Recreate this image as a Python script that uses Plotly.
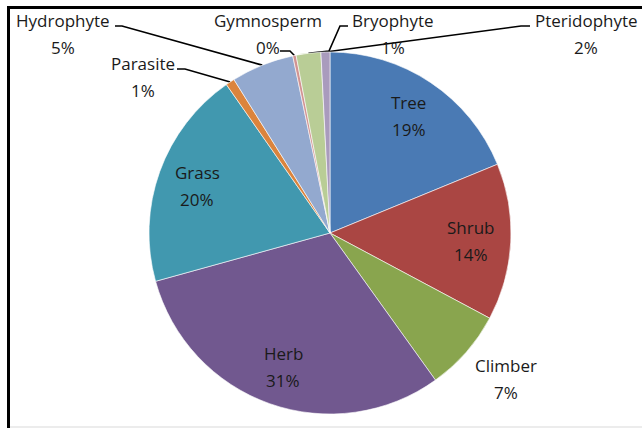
import numpy as np
import plotly.graph_objects as go

# data
categories = ["Tree", "Shrub", "Climber", "Herb", "Grass", "Parasite",
              "Hydrophyte", "Gymnosperm", "Bryophyte", "Pteridophyte"]
shares = [18.8, 14.0, 7.3, 30.6, 19.6, 0.8, 5.6, 0.3, 2.2, 0.8]
pct_labels = ["19%", "14%", "7%", "31%", "20%", "1%", "5%", "0%", "1%", "2%"]

colors = ["#4A7AB4", "#AA4643", "#89A54E", "#71588F", "#4198AF", "#DB843D",
          "#93A9CF", "#D19392", "#B9CD96", "#A99BBD"]

W, H = 642, 428
CX, CY, R = 330, 233, 181          # pie centre / radius in pixels
FONT = "Open Sans, sans-serif"
FS = 17
TXT = "#1a1a1a"

# outside labels: text centre (px), leader path points before the slice edge (px)
outside = {
    "Climber":      dict(pos=(506, 365), path=None),
    "Hydrophyte":   dict(pos=(63, 20), path=[(115, 26), (122, 26)]),
    "Parasite":     dict(pos=(143, 63), path=[(177, 69), (185, 69)]),
    "Gymnosperm":   dict(pos=(268, 20), path=[(280, 51), (290, 51)]),
    "Bryophyte":    dict(pos=(393, 20), path=[(348, 26), (340, 26), (329, 51)]),
    "Pteridophyte": dict(pos=(586, 20), path=[(530, 26), (521, 26)]),
}

fig = go.Figure()

fig.add_trace(go.Pie(
    labels=categories,
    values=shares,
    sort=False,
    direction="clockwise",
    rotation=0,
    marker=dict(colors=colors, line=dict(color="white", width=0.6)),
    textinfo="none",
    hoverinfo="label+percent",
    showlegend=False,
    domain=dict(x=[(CX - R) / W, (CX + R) / W],
                y=[1 - (CY + R) / H, 1 - (CY - R) / H]),
))

# mid angles of slices (clockwise from 12 o'clock)
vals = np.array(shares, dtype=float)
cum = np.cumsum(vals) - vals / 2
theta = cum / vals.sum() * 2 * np.pi

annotations = []
for i, name in enumerate(categories):
    ex, ey = CX + R * np.sin(theta[i]), CY - R * np.cos(theta[i])
    if name in outside:
        px, py = outside[name]["pos"]
        annotations.append(dict(x=px, y=py, xref="x", yref="y", text=name,
                                showarrow=False, xanchor="center", yanchor="middle"))
        annotations.append(dict(x=px, y=py + 27, xref="x", yref="y", text=pct_labels[i],
                                showarrow=False, xanchor="center", yanchor="middle"))
        path = outside[name]["path"]
        if path:
            pts = list(path) + [(ex, ey)]
            fig.add_trace(go.Scatter(
                x=[p[0] for p in pts], y=[p[1] for p in pts],
                mode="lines", line=dict(color="black", width=1.6),
                hoverinfo="skip", showlegend=False,
            ))
    else:
        # inside labels at ~0.78 r along the mid angle
        lx, ly = CX + 0.78 * R * np.sin(theta[i]), CY - 0.78 * R * np.cos(theta[i])
        annotations.append(dict(x=lx, y=ly, xref="x", yref="y", text=name,
                                showarrow=False, yshift=13))
        annotations.append(dict(x=lx, y=ly, xref="x", yref="y", text=pct_labels[i],
                                showarrow=False, yshift=-14))

# black chart frame (cropped on right / bottom like the reference)
shapes = [
    dict(type="line", xref="x", yref="y", x0=8.5, x1=8.5, y0=6, y1=440,
         line=dict(color="black", width=3)),
    dict(type="line", xref="x", yref="y", x0=7, x1=660, y0=7.5, y1=7.5,
         line=dict(color="black", width=3)),
    dict(type="line", xref="x", yref="y", x0=10, x1=660, y0=427, y1=427,
         line=dict(color="#d9d9d9", width=1)),
]

fig.update_layout(
    width=W, height=H, autosize=False,
    margin=dict(l=0, r=0, t=0, b=0),
    paper_bgcolor="white", plot_bgcolor="rgba(0,0,0,0)",
    font=dict(family=FONT, size=FS, color=TXT),
    # overlay axes in pixel units covering the whole figure
    xaxis=dict(domain=[0, 1], range=[0, W], visible=False, fixedrange=True),
    yaxis=dict(domain=[0, 1], range=[H, 0], visible=False, fixedrange=True),
    annotations=annotations,
    shapes=shapes,
)

fig.write_html("out.html", config={"displayModeBar": False},
               post_script="document.body.style.margin='0';")
